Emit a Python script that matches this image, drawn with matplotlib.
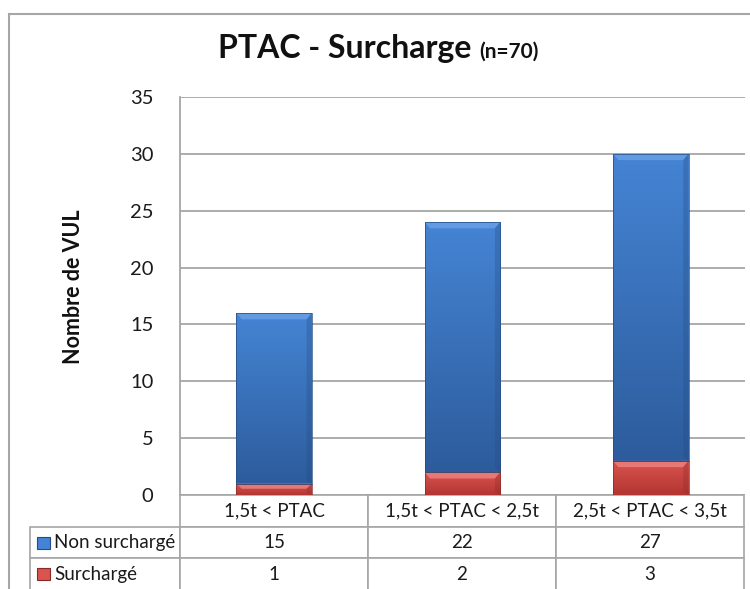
import numpy as np
import matplotlib.pyplot as plt
from matplotlib.table import Table
from matplotlib.patches import Rectangle, Polygon
from matplotlib.colors import LinearSegmentedColormap

# data
categories = ['1,5t < PTAC', '1,5t < PTAC < 2,5t', '2,5t < PTAC < 3,5t']
series_names = ['Non surchargé', 'Surchargé']
non_surcharge = [15, 22, 27]
surcharge = [1, 2, 3]
yticks = [0, 5, 10, 15, 20, 25, 30, 35]

plt.rcParams['font.family'] = ['Lato', 'DejaVu Sans']

W, H = 750, 589
fig = plt.figure(figsize=(7.5, 5.89), dpi=100)

def fx(px):
    return px / W

def fy(py):
    return 1 - py / H

# outer chart frame (cut off at right / bottom like the screenshot)
fig.patches.append(Rectangle((fx(9), fy(600)), fx(760) - fx(9), fy(14) - fy(600),
                             transform=fig.transFigure, fill=False,
                             edgecolor='#a6a6a6', lw=1.5))

ax = fig.add_axes([fx(180), fy(495), fx(745) - fx(180), fy(97) - fy(495)])

blue = ('#4584d4', '#2d5c9c', '#6aa2e6', '#244c82')   # top, bottom, bevel, edge
red = ('#d9534f', '#b33632', '#ee8380', '#8a2a27')

x = np.arange(len(categories))
bw = 0.4
b_red = ax.bar(x, surcharge, bw, facecolor='none', edgecolor=red[3], lw=0.5, zorder=3)
b_blue = ax.bar(x, non_surcharge, bw, bottom=surcharge, facecolor='none',
                edgecolor=blue[3], lw=0.5, zorder=3)

def shade(bars, cols):
    cmap = LinearSegmentedColormap.from_list('g', [cols[1], cols[0]])
    grad = np.linspace(0, 1, 128).reshape(-1, 1)
    for b in bars:
        x0, y0, w, h = b.get_x(), b.get_y(), b.get_width(), b.get_height()
        im = ax.imshow(grad, cmap=cmap, extent=[x0, x0 + w, y0, y0 + h],
                       origin='lower', aspect='auto', zorder=2)
        im.set_clip_path(b)
        dx = 0.028
        dy = min(0.55, h * 0.45)
        ax.add_patch(Polygon([(x0, y0 + h), (x0 + w, y0 + h), (x0 + w - dx, y0 + h - dy),
                              (x0 + dx, y0 + h - dy)], closed=True, facecolor=cols[2],
                             edgecolor='none', alpha=0.8, zorder=2.5))
        ax.add_patch(Polygon([(x0 + w, y0), (x0 + w, y0 + h), (x0 + w - dx, y0 + h - dy),
                              (x0 + w - dx, y0 + dy * 0.5)], closed=True, facecolor=cols[3],
                             edgecolor='none', alpha=0.3, zorder=2.5))

shade(b_red, red)
shade(b_blue, blue)

ax.set_xlim(-0.5, 2.5)
ax.set_ylim(0, 35)
ax.set_yticks(yticks)
ax.set_xticks([])
ax.yaxis.grid(True, color='#a6a6a6', lw=1.3)
ax.set_axisbelow(True)
for s in ['top', 'right', 'bottom']:
    ax.spines[s].set_visible(False)
ax.spines['left'].set_color('#a6a6a6')
ax.spines['left'].set_linewidth(1.3)
ax.tick_params(axis='y', length=0, pad=19, labelsize=14.5, labelcolor='#1a1a1a')

# data table under the plot
lab_w, col_w, row_h = 150, 188, 31.7
ax_w, ax_h = 565, 398
tb = Table(ax, bbox=[-lab_w / ax_w, -3 * row_h / ax_h, (lab_w + 3 * col_w) / ax_w, 3 * row_h / ax_h])
for c, cat in enumerate(categories):
    tb.add_cell(0, c + 1, width=col_w, height=row_h, text=cat, loc='center')
rows = [non_surcharge, surcharge]
for r, name in enumerate(series_names):
    cell = tb.add_cell(r + 1, 0, width=lab_w, height=row_h, text=name, loc='left')
    cell.PAD = 0.16
    for c, v in enumerate(rows[r]):
        tb.add_cell(r + 1, c + 1, width=col_w, height=row_h, text=str(v), loc='center')
tb.auto_set_font_size(False)
tb.set_fontsize(13.5)
for cell in tb.get_celld().values():
    cell.set_edgecolor('#a6a6a6')
    cell.set_linewidth(1.2)
    cell.get_text().set_color('#1a1a1a')
ax.add_table(tb)

# legend keys inside row labels
for r, cols in enumerate([blue, red]):
    yc = -(r + 1.5) * row_h / ax_h
    ax.add_patch(Rectangle(((37 - 180) / ax_w, yc - 6 / ax_h), 13 / ax_w, 12 / ax_h,
                           transform=ax.transAxes, clip_on=False,
                           facecolor=cols[0], edgecolor=cols[3], lw=0.8))

fig.text(fx(74), fy(287), 'Nombre de VUL', rotation=90, ha='center', va='center',
         fontsize=15.5, fontweight='bold', color='#111111')

t1 = fig.text(fx(218), fy(58), 'PTAC - Surcharge', ha='left', va='baseline',
              fontsize=23, fontweight='bold', color='#111111')
fig.canvas.draw()
bb = t1.get_window_extent(fig.canvas.get_renderer())
fig.text((bb.x1 + 8) / W, fy(58), '(n=70)', ha='left', va='baseline',
         fontsize=15, fontweight='bold', color='#111111')

fig.savefig('out.png', dpi=100)
